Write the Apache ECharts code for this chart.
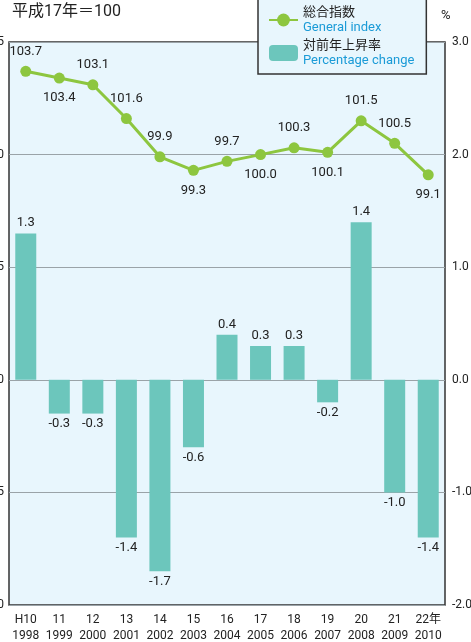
<!DOCTYPE html>
<html>
<head>
<meta charset="utf-8">
<script src="https://cdn.jsdelivr.net/npm/echarts@6/dist/echarts.min.js"></script>
<style>
    html, body { margin: 0; padding: 0; background: #fff; }
    #chart { width: 471px; height: 642px; }
</style>
</head>
<body>
<div id="chart"></div>
<script>
    // 和暦・西暦
    var eraLabels = ['H10', '11', '12', '13', '14', '15', '16', '17', '18', '19', '20', '21', '22年'];
    var yearLabels = ['1998', '1999', '2000', '2001', '2002', '2003', '2004', '2005', '2006', '2007', '2008', '2009', '2010'];
    // 総合指数（平成17年=100）
    var indexValues = [103.7, 103.4, 103.1, 101.6, 99.9, 99.3, 99.7, 100.0, 100.3, 100.1, 101.5, 100.5, 99.1];
    // 対前年上昇率 %
    var changeValues = [1.3, -0.3, -0.3, -1.4, -1.7, -0.6, 0.4, 0.3, 0.3, -0.2, 1.4, -1.0, -1.4];
    // 指数ラベルの上下
    var indexLabelSide = ['top', 'bottom', 'top', 'top', 'top', 'bottom', 'top', 'bottom', 'top', 'bottom', 'top', 'top', 'bottom'];

    var legendEn = {'総合指数': 'General index', '対前年上昇率': 'Percentage change'};

    var categories = [];
    for (var i = 0; i < eraLabels.length; i++) {
        categories.push(eraLabels[i] + '\n' + yearLabels[i]);
    }

    var lineData = indexValues.map(function (v, i) {
        return {value: v, label: {position: indexLabelSide[i]}};
    });
    var barData = changeValues.map(function (v) {
        return {value: v, label: {position: v < 0 ? 'bottom' : 'top'}};
    });

    var myChart = echarts.init(document.getElementById('chart'));
    var font = 'Roboto, "Noto Sans CJK JP", sans-serif';
    var option = {
        animation: false,
        textStyle: {fontFamily: font},
        graphic: [
            {type: 'text', left: 12, top: 4, style: {text: '平成17年＝100', fontSize: 16, fill: '#222', fontFamily: font}},
            {type: 'text', left: 441, top: 9, style: {text: '%', fontSize: 13, fill: '#222', fontFamily: font}}
        ],
        legend: {
            orient: 'vertical',
            left: 258,
            top: -10,
            padding: [16, 12, 7, 10],
            itemGap: 5,
            itemWidth: 29,
            itemHeight: 16,
            backgroundColor: '#e8f6fd',
            borderColor: '#333',
            borderWidth: 1.5,
            borderRadius: 0,
            data: ['総合指数', '対前年上昇率'],
            formatter: function (name) {
                return '{jp|' + name + '}\n{en|' + legendEn[name] + '}';
            },
            textStyle: {
                rich: {
                    jp: {fontSize: 13, color: '#222', lineHeight: 15, fontFamily: font},
                    en: {fontSize: 13, color: '#1b9bd7', lineHeight: 15, fontFamily: font}
                }
            }
        },
        grid: {
            left: 9,
            right: 26,
            top: 42,
            bottom: 37,
            containLabel: false,
            outerBoundsMode: 'none',
            show: true,
            backgroundColor: '#e8f6fd',
            borderColor: '#333',
            borderWidth: 1.5
        },
        xAxis: {
            type: 'category',
            data: categories,
            axisLine: {show: false},
            axisTick: {show: false},
            axisLabel: {
                interval: 0,
                margin: 7,
                fontSize: 12,
                lineHeight: 16,
                color: '#222'
            }
        },
        yAxis: [
            {
                type: 'value',
                min: 80,
                max: 105,
                interval: 5,
                axisLine: {show: false},
                axisTick: {show: false},
                axisLabel: {margin: 5, fontSize: 12, color: '#222'},
                splitLine: {lineStyle: {color: '#9aa3a8', width: 1}}
            },
            {
                type: 'value',
                min: -2,
                max: 3,
                interval: 1,
                axisLine: {show: false},
                axisTick: {show: false},
                axisLabel: {
                    margin: 7,
                    fontSize: 12,
                    color: '#222',
                    formatter: function (v) { return v.toFixed(1); }
                },
                splitLine: {show: false}
            }
        ],
        series: [
            {
                name: '対前年上昇率',
                type: 'bar',
                yAxisIndex: 1,
                barWidth: 21,
                data: barData,
                itemStyle: {color: '#6cc6bc'},
                label: {
                    show: true,
                    distance: 4,
                    fontSize: 13,
                    color: '#222',
                    formatter: function (p) { return p.value.toFixed(1); }
                }
            },
            {
                name: '総合指数',
                type: 'line',
                yAxisIndex: 0,
                data: lineData,
                symbol: 'circle',
                symbolSize: 11,
                lineStyle: {color: '#8dc63f', width: 3},
                itemStyle: {color: '#8dc63f'},
                label: {
                    show: true,
                    distance: 8,
                    fontSize: 13,
                    color: '#222',
                    formatter: function (p) { return p.value.toFixed(1); }
                },
                z: 3
            }
        ]
    };
    myChart.setOption(option);
</script>
</body>
</html>
